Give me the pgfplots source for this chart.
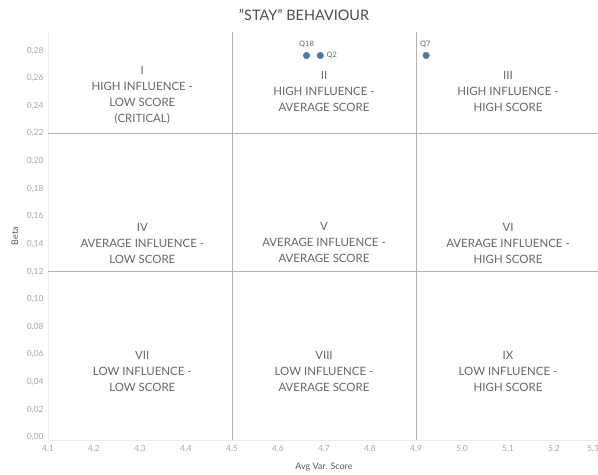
\documentclass[border=0pt]{standalone}
\usepackage{pgfplots}
\pgfplotsset{compat=1.18}
\usepackage{fontspec}
\setmainfont{Lato}
\definecolor{tabblue}{HTML}{4E79A7}
\definecolor{reftxt}{HTML}{666666}
\definecolor{ticktxt}{HTML}{A8A8A8}
\definecolor{refline}{HTML}{B4B4B4}
\begin{document}
\begin{tikzpicture}
\begin{axis}[
  name=ax,
  scale only axis,
  width=552bp, height=408bp,
  xmin=4.1, xmax=5.3,
  ymin=-0.002, ymax=0.2935,
  axis lines*=left,
  axis line style={draw=black!8, -},
  major tick length=0pt,
  xtick={4.1,4.2,4.3,4.4,4.5,4.6,4.7,4.8,4.9,5.0,5.1,5.2},
  ytick={0,0.02,0.04,0.06,0.08,0.10,0.12,0.14,0.16,0.18,0.20,0.22,0.24,0.26,0.28},
  x tick label style={/pgf/number format/use comma, /pgf/number format/fixed, /pgf/number format/fixed zerofill, /pgf/number format/precision=1, /pgf/number format/assume math mode=true, yshift=-2bp},
  y tick label style={/pgf/number format/use comma, /pgf/number format/fixed, /pgf/number format/fixed zerofill, /pgf/number format/precision=2, /pgf/number format/assume math mode=true, xshift=-1bp},
  tick label style={font=\fontsize{8.5}{9}\selectfont, text=ticktxt},
  clip=false,
]
\addplot[only marks, mark=*, mark size=3.3bp, color=tabblue] coordinates {
  (4.662,0.2765) (4.692,0.2765) (4.922,0.2765)
};
% reference lines
\draw[refline, line width=0.8bp] (axis cs:4.5,-0.002) -- (axis cs:4.5,0.2935);
\draw[refline, line width=0.8bp] (axis cs:4.9,-0.002) -- (axis cs:4.9,0.2935);
\draw[refline, line width=0.8bp] (axis cs:4.1,0.12) -- (axis cs:5.3,0.12);
\draw[refline, line width=0.8bp] (axis cs:4.1,0.22) -- (axis cs:5.3,0.22);
% last x tick label, kept inside the picture
\node[font=\fontsize{8.5}{9}\selectfont, text=ticktxt, anchor=north east, inner xsep=1bp] at ([yshift=-2bp]axis cs:5.3,-0.002) {5,3};
% point labels
\node[font=\fontsize{7.5}{8}\selectfont, text=reftxt] at (axis cs:4.662,0.2845) {Q18};
\node[font=\fontsize{7.5}{8}\selectfont, text=reftxt, anchor=west] at (axis cs:4.698,0.2768) {Q2};
\node[font=\fontsize{7.5}{8}\selectfont, text=reftxt] at (axis cs:4.92,0.2845) {Q7};
% quadrant labels
\tikzset{quad/.style={align=center, font=\fontsize{11.5}{16}\selectfont, text=reftxt}}
\node[quad] at (axis cs:4.305,0.2479) {I\\HIGH INFLUENCE -\\LOW SCORE\\(CRITICAL)};
\node[quad] at (axis cs:4.70,0.2504) {II\\HIGH INFLUENCE -\\AVERAGE SCORE};
\node[quad] at (axis cs:5.10,0.2504) {III\\HIGH INFLUENCE -\\HIGH SCORE};
\node[quad] at (axis cs:4.305,0.1406) {IV\\AVERAGE INFLUENCE -\\LOW SCORE};
\node[quad] at (axis cs:4.70,0.1410) {V\\AVERAGE INFLUENCE -\\AVERAGE SCORE};
\node[quad] at (axis cs:5.10,0.1406) {VI\\AVERAGE INFLUENCE -\\HIGH SCORE};
\node[quad] at (axis cs:4.305,0.0475) {VII\\LOW INFLUENCE -\\LOW SCORE};
\node[quad] at (axis cs:4.70,0.0478) {VIII\\LOW INFLUENCE -\\AVERAGE SCORE};
\node[quad] at (axis cs:5.10,0.0478) {IX\\LOW INFLUENCE -\\HIGH SCORE};
\end{axis}
% title and axis labels
\node[font=\fontsize{14.5}{16}\selectfont, text=black!70] at ([shift={(256bp,425bp)}]ax.south west) {”STAY” BEHAVIOUR};
\node[font=\fontsize{9}{10}\selectfont, text=black!65, rotate=90] at ([shift={(-33bp,204bp)}]ax.south west) {Beta};
\node[font=\fontsize{9}{10}\selectfont, text=black!65] at ([shift={(276bp,-27bp)}]ax.south west) {Avg Var. Score};
\pgfresetboundingbox
\path[use as bounding box] ([shift={(-48bp,-35bp)}]ax.south west) rectangle ([shift={(550bp,440bp)}]ax.south west);
\end{tikzpicture}
\end{document}
